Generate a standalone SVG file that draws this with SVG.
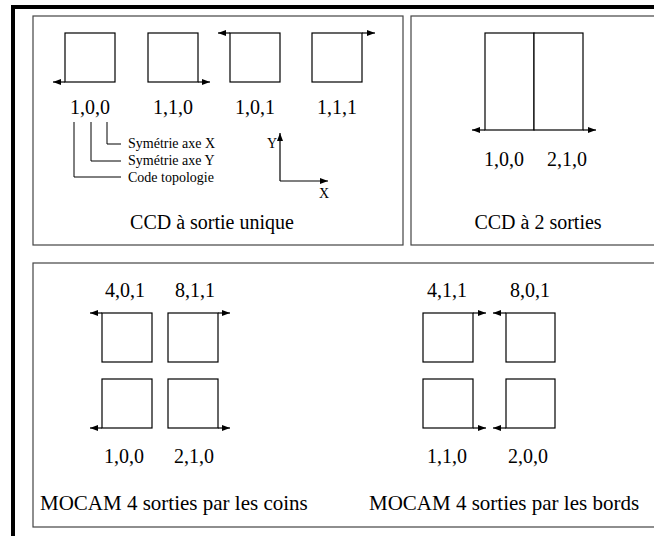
<svg xmlns="http://www.w3.org/2000/svg" width="654" height="536" viewBox="0 0 654 536">
  <style>
    .frame { fill: none; stroke: #000; stroke-width: 4; }
    .panel { fill: none; stroke: #444; stroke-width: 1.2; }
    .cell { fill: #fff; stroke: #000; stroke-width: 1.2; }
    .out { fill: none; stroke: #000; stroke-width: 1.2; marker-end: url(#head); }
    .lead { fill: none; stroke: #000; stroke-width: 1; }
    text { font-family: "Liberation Serif", "Times New Roman", serif; fill: #000; }
    .code { font-size: 20px; text-anchor: middle; }
    .title { font-size: 20px; }
    .title-lg { font-size: 21px; }
    .note { font-size: 14px; }
  </style>
  <defs>
    <marker id="head" viewBox="0 0 8 6" refX="8" refY="3" markerWidth="8" markerHeight="6" markerUnits="userSpaceOnUse" orient="auto">
      <path d="M0,0 L8,3 L0,6 Z" fill="#000"/>
    </marker>
  </defs>

  <rect width="654" height="536" fill="#fff"/>

  <!-- outer frame (left and top edges) -->
  <path class="frame" d="M13,536 V7 H660"/>

  <!-- panel outlines -->
  <rect class="panel" x="33" y="16" width="370" height="229"/>
  <rect class="panel" x="411" y="16" width="260" height="229"/>
  <rect class="panel" x="33" y="263" width="640" height="264"/>

  <!-- single-output CCD topologies -->
  <g id="ccd-100">
    <rect class="cell" x="65" y="33" width="50" height="49"/>
    <text class="code" x="90" y="114">1,0,0</text>
  </g>
  <g id="ccd-110">
    <rect class="cell" x="148" y="33" width="50" height="49"/>
    <text class="code" x="173" y="114">1,1,0</text>
  </g>
  <g id="ccd-101">
    <rect class="cell" x="230" y="33" width="50" height="49"/>
    <text class="code" x="255" y="114">1,0,1</text>
  </g>
  <g id="ccd-111">
    <rect class="cell" x="312" y="33" width="50" height="49"/>
    <text class="code" x="337" y="114">1,1,1</text>
  </g>
  <g id="legend">
    <text class="note" x="128" y="148">Symétrie axe X</text>
    <text class="note" x="128" y="165">Symétrie axe Y</text>
    <text class="note" x="128" y="182">Code topologie</text>
  </g>
  <g id="axes">
    <text class="note" x="277" y="148" text-anchor="end">Y</text>
    <text class="note" x="319" y="198">X</text>
  </g>
  <text id="title-single" class="title" x="212" y="229" text-anchor="middle">CCD à sortie unique</text>

  <!-- two-output CCD -->
  <g id="ccd2-left">
    <rect class="cell" x="485" y="33" width="49" height="97"/>
    <text class="code" x="504" y="166">1,0,0</text>
  </g>
  <g id="ccd2-right">
    <rect class="cell" x="534" y="33" width="49" height="97"/>
    <text class="code" x="567" y="166">2,1,0</text>
  </g>
  <text id="title-two" class="title" x="538" y="229" text-anchor="middle">CCD à 2 sorties</text>

  <!-- MOCAM, corner outputs -->
  <g id="corner-401">
    <rect class="cell" x="102" y="313" width="50" height="49"/>
    <text class="code" x="125" y="297">4,0,1</text>
  </g>
  <g id="corner-811">
    <rect class="cell" x="168" y="313" width="50" height="49"/>
    <text class="code" x="195" y="297">8,1,1</text>
  </g>
  <g id="corner-100">
    <rect class="cell" x="102" y="379" width="50" height="49"/>
    <text class="code" x="124" y="463">1,0,0</text>
  </g>
  <g id="corner-210">
    <rect class="cell" x="168" y="379" width="50" height="49"/>
    <text class="code" x="194" y="463">2,1,0</text>
  </g>
  <text id="title-corners" class="title-lg" x="40" y="510">MOCAM 4 sorties par les coins</text>

  <!-- MOCAM, edge outputs -->
  <g id="edge-411">
    <rect class="cell" x="423" y="313" width="50" height="49"/>
    <text class="code" x="447" y="297">4,1,1</text>
  </g>
  <g id="edge-801">
    <rect class="cell" x="506" y="313" width="49" height="49"/>
    <text class="code" x="530" y="297">8,0,1</text>
  </g>
  <g id="edge-110">
    <rect class="cell" x="423" y="379" width="50" height="49"/>
    <text class="code" x="447" y="463">1,1,0</text>
  </g>
  <g id="edge-200">
    <rect class="cell" x="506" y="379" width="49" height="49"/>
    <text class="code" x="528" y="463">2,0,0</text>
  </g>
  <text id="title-edges" class="title-lg" x="369" y="510">MOCAM 4 sorties par les bords</text>

  <!-- connectors: output arrows, legend leaders, axes -->
  <g id="connectors">
    <path class="out" d="M65,82 H53"/>
    <path class="out" d="M198,82 H210"/>
    <path class="out" d="M230,33 H218"/>
    <path class="out" d="M362,33 H375"/>

    <path class="lead" d="M107,122 V144 H121"/>
    <path class="lead" d="M91,122 V161 H121"/>
    <path class="lead" d="M74,122 V177 H121"/>

    <path class="out" d="M280,181 V133"/>
    <path class="out" d="M280,181 H328"/>

    <path class="out" d="M485,130 H472"/>
    <path class="out" d="M583,130 H596"/>

    <path class="out" d="M102,313 H90"/>
    <path class="out" d="M218,313 H230"/>
    <path class="out" d="M102,428 H90"/>
    <path class="out" d="M218,428 H230"/>

    <path class="out" d="M473,313 H486"/>
    <path class="out" d="M506,313 H493"/>
    <path class="out" d="M473,428 H486"/>
    <path class="out" d="M506,428 H493"/>
  </g>
</svg>
